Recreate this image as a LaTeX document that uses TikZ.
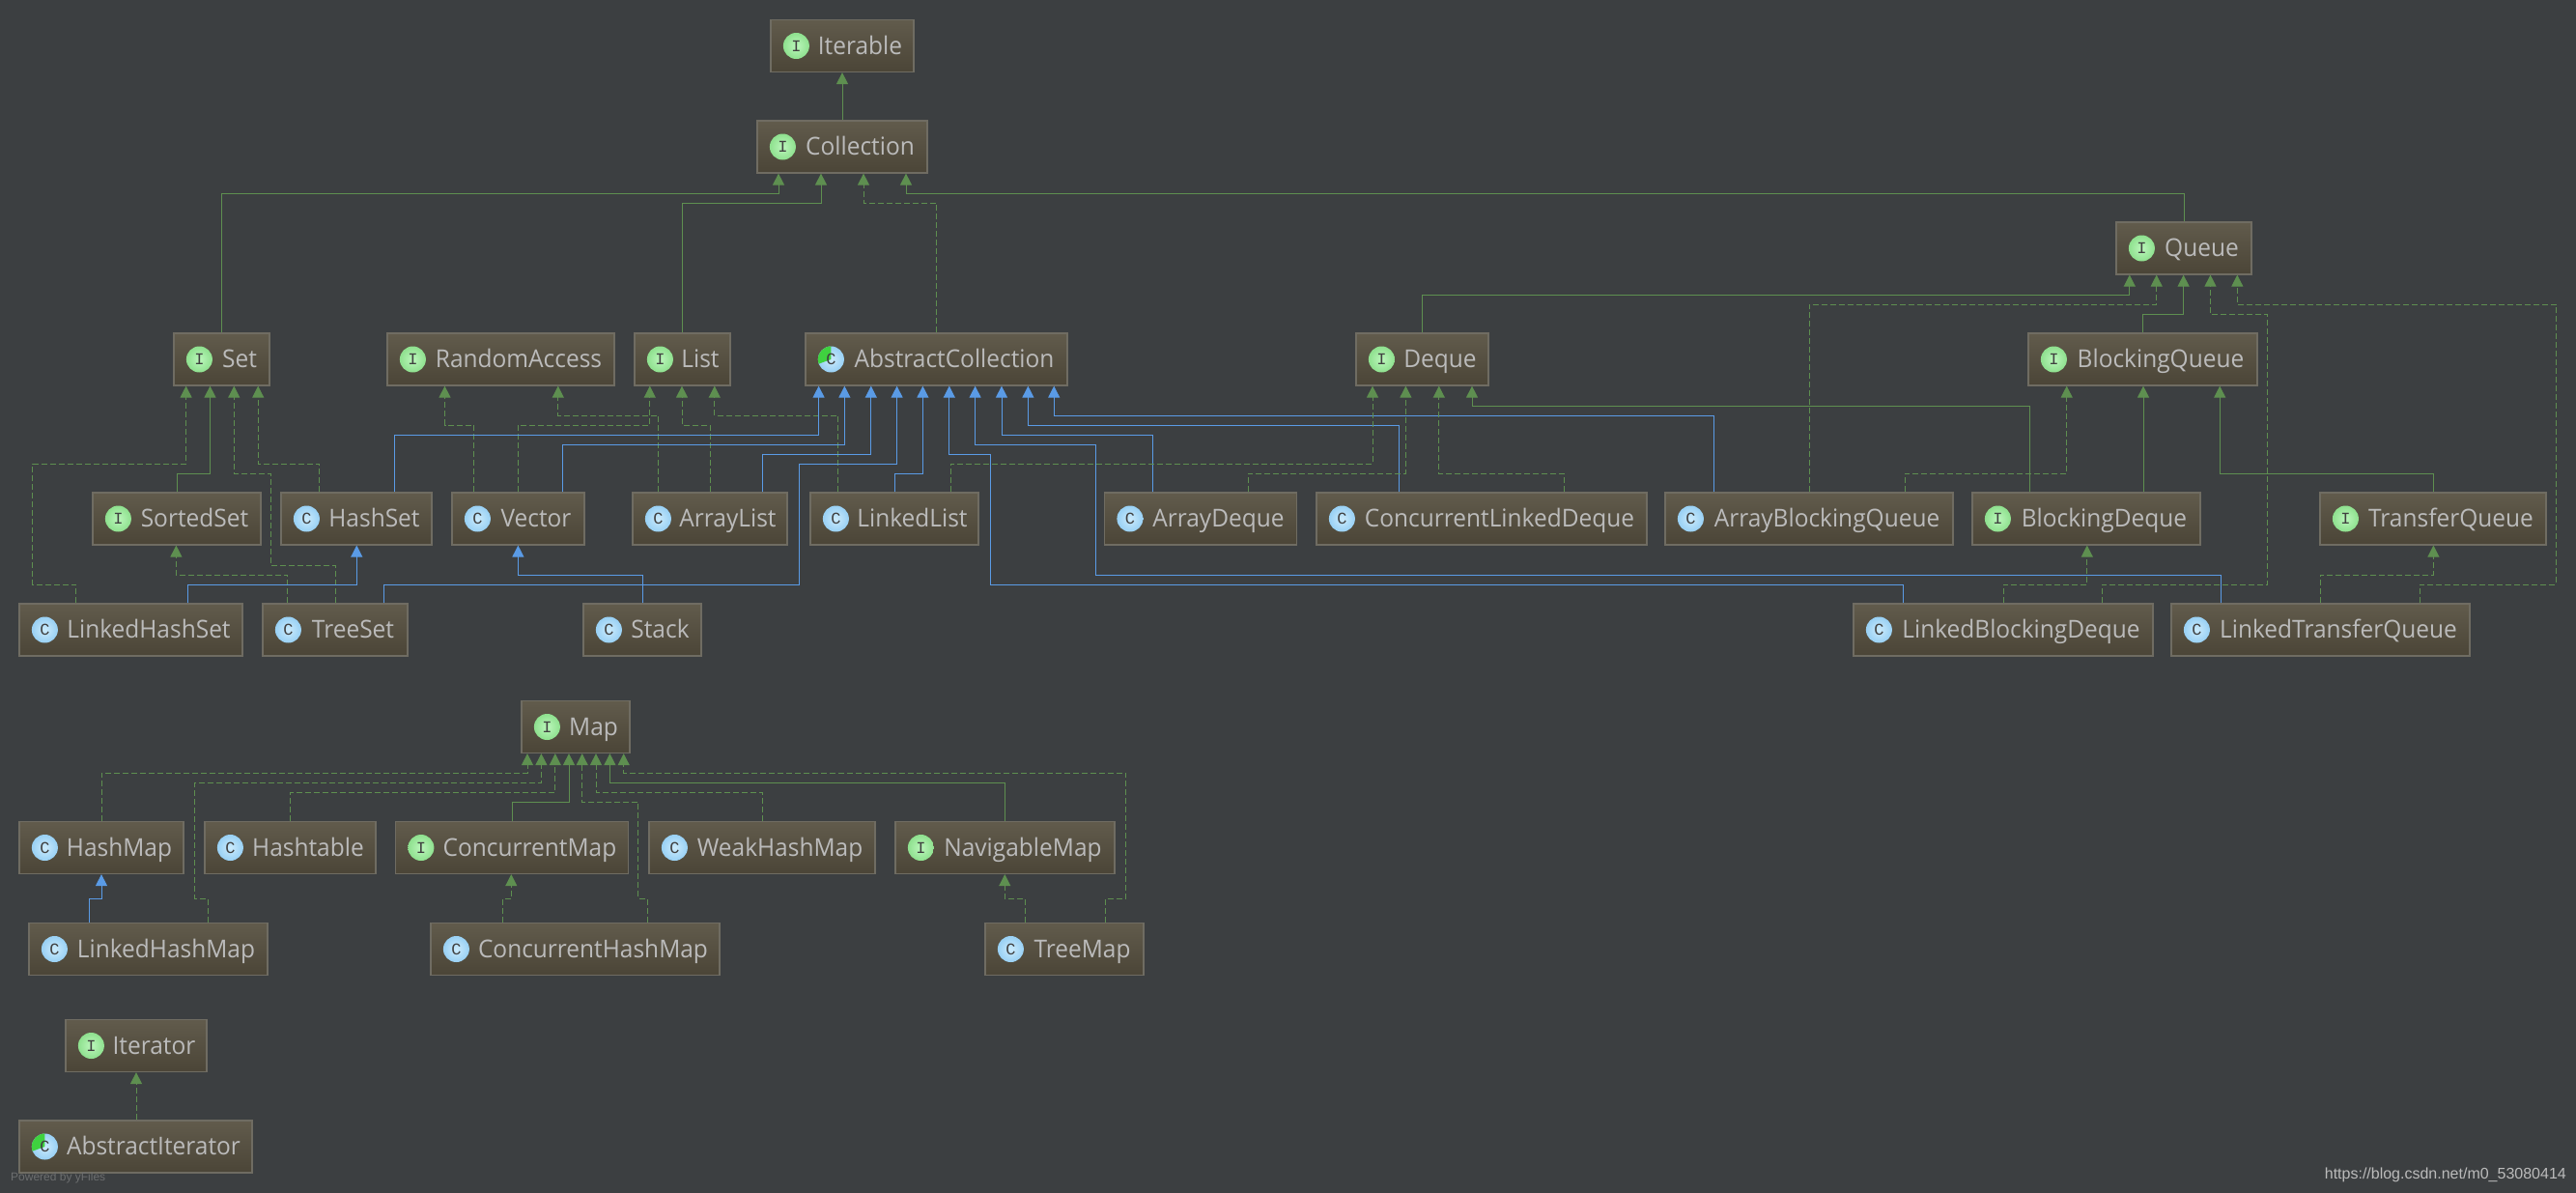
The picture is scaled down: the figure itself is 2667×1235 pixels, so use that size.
\documentclass[tikz,border=0pt]{standalone}
\usepackage{xcolor}
\usepackage{fontspec}
\usetikzlibrary{arrows.meta}
\setmainfont[FakeStretch=0.96]{Open Sans}
\setmonofont{Liberation Mono}
\definecolor{canvas}{HTML}{3C3F41}
\definecolor{boxtop}{HTML}{615B4C}
\definecolor{boxbot}{HTML}{4B4537}
\definecolor{boxline}{HTML}{6F6C62}
\definecolor{label}{HTML}{BBBBBB}
\definecolor{greenline}{HTML}{5E8F50}
\definecolor{blueline}{HTML}{5A9BE6}
\definecolor{ifacein}{HTML}{BCF7BC}
\definecolor{ifaceout}{HTML}{8EE08E}
\definecolor{clsin}{HTML}{CCEBFC}
\definecolor{clsout}{HTML}{98D0F4}
\definecolor{slice}{HTML}{3FD23F}

\begin{document}
\begin{tikzpicture}[
    x=1pt, y=-1pt,
    box/.style={rectangle, draw=boxline, line width=1.2pt, top color=boxtop, bottom color=boxbot, minimum height=54pt, inner sep=0pt, text=label, text height=20pt, text depth=3pt, font=\fontsize{25.5}{25.5}\selectfont, execute at begin node={\hskip37pt}},
    dot/.style={circle, minimum size=27pt, inner sep=0pt, anchor=center, xshift=27pt, text=black!75, font=\fontsize{17}{17}\ttfamily\selectfont, execute at begin node={}},
    ifacedot/.style={dot, inner color=ifacein, outer color=ifaceout},
    clsdot/.style={dot, inner color=clsin, outer color=clsout},
    absdot/.style={clsdot, path picture={\fill[slice] (path picture bounding box.center) -- ++(90:14pt) arc (90:200:14pt) -- cycle;}},
    iface/.style={box, label={[ifacedot]west:I}},
    cls/.style={box, label={[clsdot]west:C}},
    abstr/.style={box, label={[absdot]west:C}},
    extends/.style={-{Triangle[length=12pt, width=12pt]}, line width=1pt, greenline},
    impl/.style={extends, dash pattern=on 6pt off 3pt},
    inherit/.style={-{Triangle[length=12pt, width=12pt]}, line width=1pt, blueline}
]
\fill[canvas] (0,0) rectangle (2667,1234.6);

\node[iface, minimum width=148pt] (Iterable) at (872,47.5) {Iterable};
\node[iface, minimum width=176pt] (Collection) at (872,152) {Collection};
\node[iface, minimum width=140pt] (Queue) at (2261,257) {Queue};

\node[iface, minimum width=99pt] (Set) at (229.5,372) {Set};
\node[iface, minimum width=235pt] (RandomAccess) at (518.5,372) {RandomAccess};
\node[iface, minimum width=99pt] (List) at (706.5,372) {List};
\node[abstr, minimum width=271pt] (AbstractCollection) at (969.5,372) {AbstractCollection};
\node[iface, minimum width=137pt] (Deque) at (1472.5,372) {Deque};
\node[iface, minimum width=237pt] (BlockingQueue) at (2218.5,372) {BlockingQueue};

\node[iface, minimum width=174pt] (SortedSet) at (183,537) {SortedSet};
\node[cls, minimum width=156pt] (HashSet) at (369,537) {HashSet};
\node[cls, minimum width=137pt] (Vector) at (536.5,537) {Vector};
\node[cls, minimum width=160pt] (ArrayList) at (735,537) {ArrayList};
\node[cls, minimum width=174pt] (LinkedList) at (926,537) {LinkedList};
\node[cls, minimum width=199pt] (ArrayDeque) at (1243,537) {ArrayDeque};
\node[cls, minimum width=342pt] (ConcurrentLinkedDeque) at (1534,537) {ConcurrentLinkedDeque};
\node[cls, minimum width=298pt] (ArrayBlockingQueue) at (1873,537) {ArrayBlockingQueue};
\node[iface, minimum width=236pt] (BlockingDeque) at (2160,537) {BlockingDeque};
\node[iface, minimum width=234pt] (TransferQueue) at (2519,537) {TransferQueue};

\node[cls, minimum width=231pt] (LinkedHashSet) at (135.5,652) {LinkedHashSet};
\node[cls, minimum width=150pt] (TreeSet) at (347,652) {TreeSet};
\node[cls, minimum width=122pt] (Stack) at (665,652) {Stack};
\node[cls, minimum width=310pt] (LinkedBlockingDeque) at (2074,652) {LinkedBlockingDeque};
\node[cls, minimum width=309pt] (LinkedTransferQueue) at (2402.5,652) {LinkedTransferQueue};

\node[iface, minimum width=112pt] (Map) at (596,752.5) {Map};
\node[cls, minimum width=170pt] (HashMap) at (105,877.5) {HashMap};
\node[cls, minimum width=177pt] (Hashtable) at (300.5,877.5) {Hashtable};
\node[iface, minimum width=241pt] (ConcurrentMap) at (530,877.5) {ConcurrentMap};
\node[cls, minimum width=234pt] (WeakHashMap) at (789,877.5) {WeakHashMap};
\node[iface, minimum width=227pt] (NavigableMap) at (1040.5,877.5) {NavigableMap};
\node[cls, minimum width=247pt] (LinkedHashMap) at (153.5,982.5) {LinkedHashMap};
\node[cls, minimum width=299pt] (ConcurrentHashMap) at (595.5,982.5) {ConcurrentHashMap};
\node[cls, minimum width=164pt] (TreeMap) at (1102,982.5) {TreeMap};

\node[iface, minimum width=146pt] (Iterator) at (141,1082.5) {Iterator};
\node[abstr, minimum width=241pt] (AbstractIterator) at (140.5,1187) {AbstractIterator};

\node[anchor=west, inner sep=0pt, text=white!25!canvas, font=\fontsize{12}{12}\fontspec{Liberation Sans}] (powered) at (11,1219) {Powered by yFiles};
\node[anchor=east, inner sep=0pt, text=label, font=\fontsize{16}{16}\fontspec{Liberation Sans}] (url) at (2657,1216) {https://blog.csdn.net/m0\_53080414};

\draw[extends] (Collection) -- (Iterable);
\draw[extends] (Set.north) |- (806,200) -- (Collection.south -| 806,0);
\draw[extends] (List.north) |- (850,210) -- (Collection.south -| 850,0);
\draw[impl] (AbstractCollection.north) |- (894,210) -- (Collection.south -| 894,0);
\draw[extends] (Queue.north) |- (938,200) -- (Collection.south -| 938,0);

\draw[impl] (LinkedHashSet.north -| 78.4,0) |- (33.8,605) |- (192.6,480) -- (Set.south -| 192.6,0);
\draw[extends] (SortedSet.north) |- (217.5,490) -- (Set.south -| 217.5,0);
\draw[impl] (TreeSet.north) |- (280.6,585.7) |- (242.3,490) -- (Set.south -| 242.3,0);
\draw[impl] (HashSet.north -| 330.4,0) |- (267.2,480) -- (Set.south -| 267.2,0);

\draw[impl] (Vector.north -| 490.4,0) |- (460.5,440) -- (RandomAccess.south -| 460.5,0);
\draw[impl] (ArrayList.north -| 681.8,0) |- (577.8,430) -- (RandomAccess.south -| 577.8,0);
\draw[impl] (Vector.north) |- (672.8,440) -- (List.south -| 672.8,0);
\draw[impl] (ArrayList.north) |- (706,440) -- (List.south -| 706,0);
\draw[impl] (LinkedList.north -| 867.3,0) |- (739.8,430) -- (List.south -| 739.8,0);

\draw[inherit] (HashSet.north -| 408.8,0) |- (847.6,450) -- (AbstractCollection.south -| 847.6,0);
\draw[inherit] (Vector.north -| 582.3,0) |- (874.4,460) -- (AbstractCollection.south -| 874.4,0);
\draw[inherit] (ArrayList.north -| 789.5,0) |- (901.8,470) -- (AbstractCollection.south -| 901.8,0);
\draw[inherit] (TreeSet.north -| 397.3,0) |- (827.2,605) |- (928.6,480) -- (AbstractCollection.south -| 928.6,0);
\draw[inherit] (LinkedList.north) |- (955.4,490) -- (AbstractCollection.south -| 955.4,0);
\draw[inherit] (LinkedBlockingDeque.north -| 1970.7,0) |- (1025,605) |- (982.8,470) -- (AbstractCollection.south -| 982.8,0);
\draw[inherit] (LinkedTransferQueue.north -| 2299.7,0) |- (1134,595) |- (1009.6,460) -- (AbstractCollection.south -| 1009.6,0);
\draw[inherit] (ArrayDeque.north -| 1193,0) |- (1037,450) -- (AbstractCollection.south -| 1037,0);
\draw[inherit] (ConcurrentLinkedDeque.north -| 1448,0) |- (1064.4,440) -- (AbstractCollection.south -| 1064.4,0);
\draw[inherit] (ArrayBlockingQueue.north -| 1774,0) |- (1091.2,430) -- (AbstractCollection.south -| 1091.2,0);

\draw[impl] (LinkedList.north -| 984,0) |- (1421,480) -- (Deque.south -| 1421,0);
\draw[impl] (ArrayDeque.north -| 1292.7,0) |- (1455.4,490) -- (Deque.south -| 1455.4,0);
\draw[impl] (ConcurrentLinkedDeque.north -| 1619,0) |- (1489.8,490) -- (Deque.south -| 1489.8,0);
\draw[extends] (BlockingDeque.north -| 2101.6,0) |- (1524,420) -- (Deque.south -| 1524,0);

\draw[extends] (Deque.north) |- (2204.8,305) -- (Queue.south -| 2204.8,0);
\draw[impl] (ArrayBlockingQueue.north) |- (2232.7,315) -- (Queue.south -| 2232.7,0);
\draw[extends] (BlockingQueue.north) |- (2260.6,325) -- (Queue.south -| 2260.6,0);
\draw[impl] (LinkedBlockingDeque.north -| 2176.4,0) |- (2347.6,605) |- (2288.5,325) -- (Queue.south -| 2288.5,0);
\draw[impl] (LinkedTransferQueue.north -| 2505.7,0) |- (2646.6,605) |- (2316.3,315) -- (Queue.south -| 2316.3,0);

\draw[impl] (ArrayBlockingQueue.north -| 1972.4,0) |- (2139.7,490) -- (BlockingQueue.south -| 2139.7,0);
\draw[extends] (BlockingDeque.north -| 2219,0) -- (BlockingQueue.south -| 2219,0);
\draw[extends] (TransferQueue.north) |- (2298.2,490) -- (BlockingQueue.south -| 2298.2,0);

\draw[impl] (LinkedBlockingDeque.north) |- (2160.8,605) -- (BlockingDeque.south -| 2160.8,0);
\draw[impl] (LinkedTransferQueue.north) |- (2519.4,595) -- (TransferQueue.south -| 2519.4,0);
\draw[impl] (TreeSet.north -| 297.8,0) |- (182.4,595) -- (SortedSet.south -| 182.4,0);
\draw[inherit] (LinkedHashSet.north -| 194.5,0) |- (369.3,605) -- (HashSet.south -| 369.3,0);
\draw[inherit] (Stack.north) |- (536.4,595) -- (Vector.south -| 536.4,0);

\draw[impl] (HashMap.north) |- (546,800) -- (Map.south -| 546,0);
\draw[impl] (LinkedHashMap.north -| 215,0) |- (201.7,930.4) |- (560.4,810) -- (Map.south -| 560.4,0);
\draw[impl] (Hashtable.north) |- (574.8,820) -- (Map.south -| 574.8,0);
\draw[extends] (ConcurrentMap.north) |- (589,830) -- (Map.south -| 589,0);
\draw[impl] (ConcurrentHashMap.north -| 670.4,0) |- (660.9,930.4) |- (602.7,830) -- (Map.south -| 602.7,0);
\draw[impl] (WeakHashMap.north) |- (617,820) -- (Map.south -| 617,0);
\draw[extends] (NavigableMap.north) |- (631.4,810) -- (Map.south -| 631.4,0);
\draw[impl] (TreeMap.north -| 1144,0) |- (1165.5,930.4) |- (645.7,800) -- (Map.south -| 645.7,0);

\draw[inherit] (LinkedHashMap.north -| 92.5,0) |- (105,930.4) -- (HashMap.south);
\draw[impl] (ConcurrentHashMap.north -| 520.6,0) |- (529.3,930.4) -- (ConcurrentMap.south -| 529.3,0);
\draw[impl] (TreeMap.north -| 1061,0) |- (1040.3,930.4) -- (NavigableMap.south -| 1040.3,0);
\draw[impl] (AbstractIterator.north -| 141,0) -- (Iterator.south);
\end{tikzpicture}
\end{document}
